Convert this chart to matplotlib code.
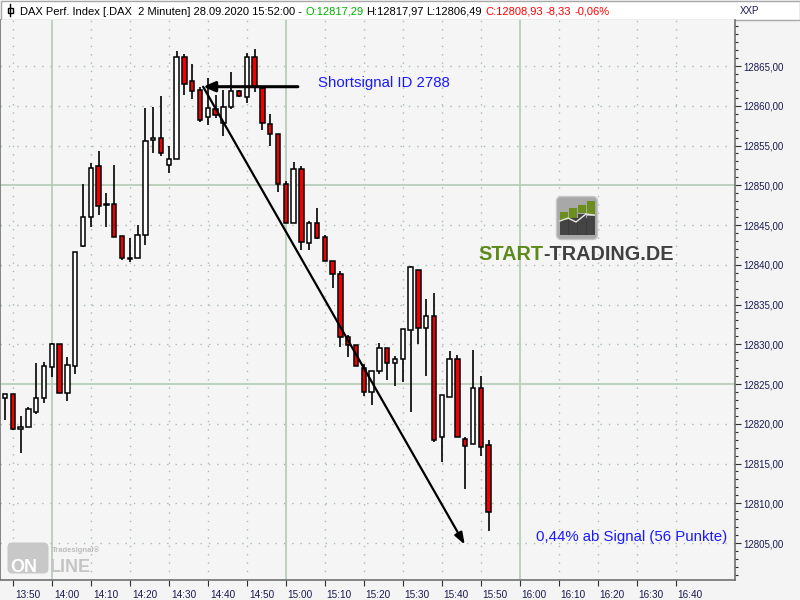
import matplotlib
matplotlib.use('Agg')
import matplotlib.pyplot as plt
import matplotlib.dates as mdates
import numpy as np
import pandas as pd
from matplotlib.patches import Rectangle, FancyBboxPatch
from matplotlib.colors import LinearSegmentedColormap
from matplotlib.ticker import MultipleLocator, FixedLocator, FuncFormatter
from matplotlib.transforms import ScaledTranslation

plt.rcParams['font.family'] = ['Liberation Sans', 'DejaVu Sans']

# DAX 2-minute candles, 28.09.2020, first bar 13:48
opens = [12823.3, 12823.7, 12819.3, 12819.6, 12821.5, 12823.2, 12827.2, 12830.0, 12823.9, 12827.3,
         12842.3, 12846.0, 12852.4, 12847.5, 12847.7, 12843.6, 12840.7, 12840.9, 12843.7, 12855.7,
         12856.0, 12852.6, 12853.3, 12866.1, 12863.1, 12862.0, 12858.6, 12859.6, 12857.8, 12859.9,
         12861.9, 12861.1, 12866.1, 12862.2, 12857.7, 12856.5, 12850.2, 12845.3, 12852.0, 12842.8,
         12845.3, 12843.5, 12840.5, 12838.8, 12830.9, 12829.9, 12827.0, 12824.0, 12826.6, 12829.5,
         12827.7, 12828.1, 12831.8, 12839.4, 12832.0, 12833.5, 12818.4, 12823.4, 12828.2, 12818.1,
         12817.4, 12824.5, 12817.29]
highs = [12823.8, 12823.7, 12821.0, 12822.1, 12827.7, 12827.8, 12830.1, 12830.0, 12828.4, 12841.6,
         12850.2, 12852.8, 12854.3, 12849.0, 12852.5, 12843.6, 12843.4, 12845.0, 12859.7, 12859.8,
         12861.2, 12854.9, 12866.9, 12866.5, 12865.3, 12862.3, 12863.5, 12861.4, 12862.0, 12864.2,
         12862.0, 12866.6, 12867.1, 12862.4, 12859.0, 12856.5, 12850.6, 12852.9, 12852.4, 12845.5,
         12847.1, 12843.8, 12840.5, 12839.2, 12831.2, 12829.9, 12827.5, 12826.7, 12830.1, 12829.5,
         12828.5, 12831.9, 12839.8, 12839.4, 12835.7, 12836.5, 12823.6, 12829.2, 12828.7, 12818.4,
         12829.3, 12826.0, 12817.97]
lows = [12820.5, 12819.2, 12816.3, 12819.6, 12821.2, 12822.6, 12825.9, 12823.9, 12822.9, 12826.2,
        12842.2, 12844.7, 12846.3, 12844.8, 12843.5, 12840.6, 12840.3, 12840.9, 12842.5, 12854.1,
        12853.7, 12851.5, 12853.3, 12861.3, 12860.9, 12858.0, 12857.6, 12858.5, 12856.2, 12859.6,
        12861.1, 12860.3, 12861.7, 12857.0, 12854.9, 12849.1, 12845.3, 12845.3, 12841.9, 12841.9,
        12843.2, 12840.5, 12837.1, 12829.6, 12828.4, 12827.3, 12823.5, 12822.4, 12826.3, 12825.5,
        12824.7, 12825.2, 12821.5, 12830.0, 12826.0, 12817.7, 12815.2, 12823.4, 12818.3, 12811.8,
        12817.4, 12815.9, 12806.49]
closes = [12823.7, 12819.3, 12819.6, 12821.8, 12823.2, 12827.3, 12830.0, 12823.9, 12827.4, 12841.6,
          12846.0, 12852.2, 12847.4, 12847.7, 12843.5, 12840.9, 12840.9, 12843.7, 12855.6, 12856.0,
          12854.1, 12853.3, 12866.1, 12862.8, 12861.9, 12858.2, 12859.7, 12858.8, 12859.9, 12861.9,
          12861.2, 12866.1, 12862.4, 12857.8, 12856.5, 12850.2, 12845.3, 12852.0, 12842.9, 12845.3,
          12843.4, 12840.5, 12838.9, 12830.9, 12829.9, 12827.3, 12824.0, 12826.7, 12829.5, 12827.7,
          12828.1, 12831.9, 12839.7, 12832.0, 12833.5, 12818.0, 12823.6, 12828.2, 12818.3, 12817.2,
          12824.5, 12817.1, 12808.93]
times = pd.date_range('2020-09-28 13:48', periods=len(opens), freq='2min')

tick_labels = ['13:50', '14:00', '14:10', '14:20', '14:30', '14:40', '14:50', '15:00', '15:10',
               '15:20', '15:30', '15:40', '15:50', '16:00', '16:10', '16:20', '16:30', '16:40']
hour_labels = ['14:00', '15:00', '16:00']
price_ticks = [12805, 12810, 12815, 12820, 12825, 12830, 12835, 12840, 12845, 12850, 12855,
               12860, 12865]
solid_prices = [12825, 12850]

signal_time = pd.Timestamp('2020-09-28 14:38:48')
signal_price = 12862.4
line_end_time = pd.Timestamp('2020-09-28 15:03:06')
target_time = pd.Timestamp('2020-09-28 15:45:54')
target_price = 12804.8

day = '2020-09-28 '
tnum = mdates.date2num(times)
tick_num = mdates.date2num(pd.to_datetime([day + s for s in tick_labels]))
hour_num = mdates.date2num(pd.to_datetime([day + s for s in hour_labels]))

fig = plt.figure(figsize=(8, 6), dpi=100)

# background / frame in pixel coords
bg = fig.add_axes([0, 0, 1, 1])
bg.set_xlim(0, 800)
bg.set_ylim(600, 0)
bg.axis('off')
bg.add_patch(Rectangle((0, 0), 800, 600, facecolor='#F4F4F4', edgecolor='none'))
cm_r = LinearSegmentedColormap.from_list('r', ['#FBFBFB', '#C2C2C2'])
bg.imshow(np.linspace(0, 1, 64)[None, :], extent=[735, 800, 580, 20], cmap=cm_r, aspect='auto')
cm_b = LinearSegmentedColormap.from_list('b', ['#FAFAFA', '#CFCFCF'])
bg.imshow(np.linspace(0, 1, 32)[:, None], extent=[0, 800, 600, 580], cmap=cm_b, aspect='auto')
bg.add_patch(Rectangle((0.5, 0.5), 799, 19.5, facecolor='white', edgecolor='#A8A8A8', lw=1))
bg.plot([10, 10], [4, 16], color='black', lw=1)
bg.add_patch(Rectangle((7.5, 7.5), 5, 5, facecolor='white', edgecolor='black', lw=1))
bg.set_xlim(0, 800)
bg.set_ylim(600, 0)

renderer = fig.canvas.get_renderer()


def colored_text(parts, x, y, gap, **kw):
    for s, c in parts:
        t = bg.text(x, y, s, color=c, va='baseline', **kw)
        x += t.get_window_extent(renderer).width + gap


colored_text([('DAX Perf. Index [.DAX  2 Minuten] 28.09.2020 15:52:00 -', 'black'),
              ('O:12817,29', '#00B000'),
              ('H:12817,97', 'black'), ('L:12806,49', 'black'),
              ('C:12808,93', '#FF0000'), ('-8,33', '#FF0000'), ('-0,06%', '#FF0000')],
             20, 15, 3, fontsize=8)
bg.text(740, 14, 'XXP', color='#1A1A50', fontsize=7)

ax = fig.add_axes([0, 20 / 600, 735 / 800, 560 / 600])
ax.set_facecolor('#F5F5F5')
start = pd.Timestamp('2020-09-28 13:50')
ax.set_xlim(mdates.date2num(start - pd.Timedelta(minutes=3.28)),
            mdates.date2num(start + pd.Timedelta(minutes=185.2)))
ax.set_ylim(12800.35, 12870.79)

# grid
for v in tick_num:
    if v not in hour_num:
        ax.axvline(v, color='#A9BFA9', lw=1, ls=(0, (1, 5)), zorder=0)
for p in price_ticks:
    if p not in solid_prices:
        ax.axhline(p, color='#A9BFA9', lw=1, ls=(0, (1, 5)), zorder=0)
for v in hour_num:
    ax.axvline(v, color='#B3C9B3', lw=1.2, zorder=0)
for p in solid_prices:
    ax.axhline(p, color='#B3C9B3', lw=1.2, zorder=0)

# candles
w = 1.15 / 1440
o = np.array(opens)
c = np.array(closes)
bottoms = np.minimum(o, c)
heights = np.maximum(np.abs(c - o), 0.2)
colors = ['white' if cc >= oo else '#F00000' for oo, cc in zip(o, c)]
ax.vlines(tnum, lows, highs, color='black', lw=1.2, zorder=2)
ax.bar(tnum, heights, width=w, bottom=bottoms, color=colors, edgecolor='black',
       linewidth=1.1, zorder=3)

# signal arrows
sx = mdates.date2num(signal_time)
ax.annotate('', xy=(sx, signal_price), xytext=(mdates.date2num(line_end_time), signal_price),
            arrowprops=dict(arrowstyle='-|>,head_length=0.7,head_width=0.3', color='black',
                            lw=2.2, shrinkA=0, shrinkB=0), zorder=5)
ax.annotate('', xy=(mdates.date2num(target_time), target_price), xytext=(sx, signal_price),
            arrowprops=dict(arrowstyle='-|>,head_length=0.7,head_width=0.25', color='black',
                            lw=1.6, shrinkA=0, shrinkB=0), zorder=5)
ax.text(mdates.date2num(pd.Timestamp('2020-09-28 15:08:10')), 12862.9, 'Shortsignal ID 2788',
        color='#1A1AFF', fontsize=10.8, va='center', ha='left', zorder=6)
ax.text(mdates.date2num(pd.Timestamp('2020-09-28 16:53:06')), 12805.8,
        '0,44% ab Signal (56 Punkte)', color='#1A1AFF', fontsize=10.8, va='center',
        ha='right', zorder=6)

# axes styling
ax.yaxis.tick_right()
ax.yaxis.set_major_locator(FixedLocator(price_ticks))
ax.yaxis.set_minor_locator(MultipleLocator(1))
ax.yaxis.set_major_formatter(FuncFormatter(lambda v, pos: f'{v:.2f}'.replace('.', ',')))
ax.tick_params(axis='y', which='major', direction='out', length=4, width=0.8,
               colors='#303030', labelcolor='#1A1A50', labelsize=7, pad=2)
ax.tick_params(axis='y', which='minor', direction='out', length=2.5, width=0.8, colors='#303030')
ax.set_xticks(tick_num)
ax.set_xticklabels(tick_labels)
ax.tick_params(axis='x', direction='out', length=4, width=0.8, colors='#303030',
               labelcolor='#1A1A50', labelsize=7.2, pad=3)
for lab in ax.get_xticklabels():
    lab.set_ha('left')
    lab.set_transform(lab.get_transform() + ScaledTranslation(2 / 100, 0, fig.dpi_scale_trans))
for side in ['left', 'right', 'bottom']:
    ax.spines[side].set_color('#707070')
    ax.spines[side].set_linewidth(1.2)
ax.spines['top'].set_visible(False)

# watermark logos (pixel coords on an overlay)
ov = fig.add_axes([0, 0, 1, 1])
ov.set_xlim(0, 800)
ov.set_ylim(600, 0)
ov.axis('off')
ov.set_zorder(10)

ov.add_patch(FancyBboxPatch((558, 198), 38, 40, boxstyle='round,pad=1.5,rounding_size=5',
                            facecolor='#A8A8A8', edgecolor='#C8C8C8', lw=1))
ov.add_patch(Rectangle((560, 218), 34, 17, facecolor='#3C3C3C', edgecolor='none'))
bar_x = [560, 569, 578, 587]
bar_top = [212, 208, 205, 201]
bar_bot = [220, 218, 213, 215]
for bx, bt, bb in zip(bar_x, bar_top, bar_bot):
    ov.add_patch(Rectangle((bx, bt), 7.5, bb - bt, facecolor='#6B8E1E', edgecolor='none'))
    ov.add_patch(Rectangle((bx, bb + 1), 7.5, 234 - bb, facecolor='#444444', edgecolor='none'))
ov.plot([560, 568, 576, 586, 594], [221, 218, 222, 214, 215], color='#E8E8E8', lw=1)

renderer = fig.canvas.get_renderer()
x = 478
for s, col in [('START', '#5C8A1A'), ('-TRADING.DE', '#404040')]:
    t = ov.text(x, 260, s, color=col, fontsize=14.3, fontweight='bold', va='baseline')
    x += t.get_window_extent(renderer).width

ov.add_patch(FancyBboxPatch((8, 543), 40, 30, boxstyle='round,pad=0.5,rounding_size=5',
                            facecolor='#C8C8C8', edgecolor='none'))
ov.text(10, 572, 'ON', color='white', fontsize=13, fontweight='bold', va='baseline')
ov.text(50, 572, 'LINE', color='#C4C4C4', fontsize=13, fontweight='bold', va='baseline')
ov.text(52, 552, 'Tradesignal\u00ae', color='#BDBDBD', fontsize=5.5, fontweight='bold',
        va='baseline')

fig.savefig('out.png', dpi=100)
